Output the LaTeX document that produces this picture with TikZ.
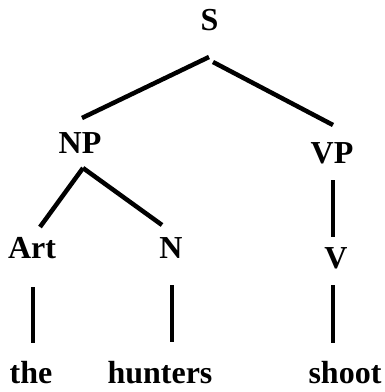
\documentclass[tikz,border=0pt]{standalone}
\usepackage{fontspec}
\setmainfont{Liberation Serif}
\tikzset{
  lbl/.style={anchor=base, inner sep=0pt, font=\bfseries\fontsize{32}{32}\selectfont},
  branch/.style={line width=4.5pt}
}
\begin{document}
\begin{tikzpicture}[x=1pt, y=-1pt]
  \useasboundingbox (0,0) rectangle (384,392);
  % category and word labels, placed on their baselines
  \node[lbl] (S)       at (209.5,30) {S};
  \node[lbl] (NP)      at (80,153)   {NP};
  \node[lbl] (VP)      at (332,163)  {VP};
  \node[lbl] (Art)     at (32,258)   {Art};
  \node[lbl] (N)       at (171,258)  {N};
  \node[lbl] (V)       at (336,268)  {V};
  \node[lbl] (the)     at (31,383)   {the};
  \node[lbl] (hunters) at (160,383)  {hunters};
  \node[lbl] (shoot)   at (345,383)  {shoot};
  % branches of the tree
  \draw[branch] ([shift={(-0.5,27)}]S.base)  -- ([shift={(2,-35)}]NP.base);
  \draw[branch] ([shift={(3.5,32)}]S.base)   -- ([shift={(1,-38)}]VP.base);
  \draw[branch] ([shift={(3,15)}]NP.base)    -- ([shift={(8,-31)}]Art.base);
  \draw[branch] ([shift={(3,15)}]NP.base)    -- ([shift={(-9,-33)}]N.base);
  \draw[branch] ([shift={(1,17)}]VP.base)    -- ([shift={(-3,-31)}]V.base);
  \draw[branch] ([shift={(1,29)}]Art.base)   -- ([shift={(2,-40)}]the.base);
  \draw[branch] ([shift={(1,27)}]N.base)     -- ([shift={(12,-41)}]hunters.base);
  \draw[branch] ([shift={(-3,17)}]V.base)    -- ([shift={(-12,-40)}]shoot.base);
\end{tikzpicture}
\end{document}
